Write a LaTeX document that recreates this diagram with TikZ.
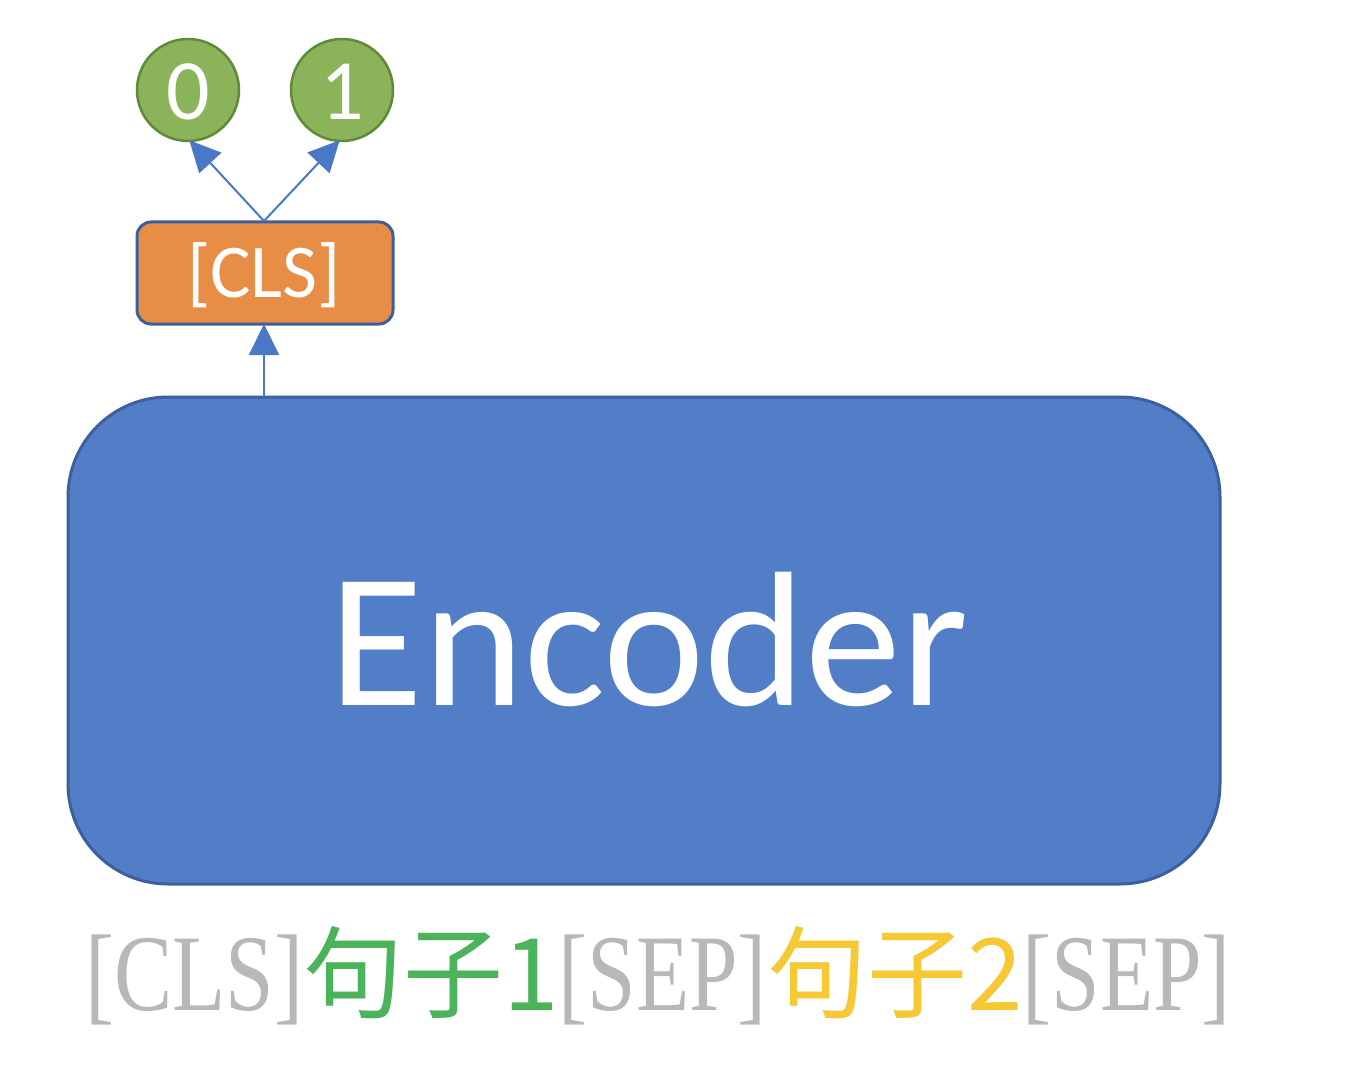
\documentclass[tikz,border=0pt]{standalone}
\usepackage{fontspec}
\usetikzlibrary{arrows.meta}
\newfontfamily\cjkf{Noto Sans CJK SC}
\newfontfamily\calib{Carlito}
\newfontfamily\serf{Liberation Serif}
\definecolor{encfill}{HTML}{527DC7}
\definecolor{encdraw}{HTML}{3E5F9E}
\definecolor{orfill}{HTML}{E88D45}
\definecolor{grfill}{HTML}{8AB35A}
\definecolor{grdraw}{HTML}{5E8A3A}
\definecolor{arrowc}{HTML}{4A78C8}
\definecolor{tgray}{HTML}{B8B8B8}
\definecolor{tgreen}{HTML}{4BB35A}
\definecolor{tyellow}{HTML}{F5C834}
\tikzset{
  outcircle/.style={circle, fill=grfill, draw=grdraw, line width=2.5pt, minimum size=102pt, inner sep=0pt},
  clsbox/.style={rectangle, rounded corners=14pt, fill=orfill, draw=encdraw, line width=3pt, minimum width=256pt, minimum height=102pt, inner sep=0pt},
  encbox/.style={rectangle, rounded corners=100pt, fill=encfill, draw=encdraw, line width=3pt, minimum width=1152pt, minimum height=487pt, inner sep=0pt},
  wlabel/.style={text=white, anchor=base, inner sep=0pt},
  conn/.style={draw=arrowc, line width=2pt, -{Triangle[length=31pt,width=30pt]}, shorten >=-1pt},
}
\newcommand{\nrw}[1]{\scalebox{0.8}[1]{\serf #1}}
\begin{document}
\begin{tikzpicture}[x=1pt,y=-1pt]
\useasboundingbox (0,0) rectangle (1350,1086);
\fill[white] (0,0) rectangle (1350,1086);
\node[encbox] (enc) at (644,640.5) {};
\node[wlabel, font=\calib\fontsize{192}{200}\selectfont] (enctext) at (649,705) {Encoder};
\node[clsbox] (cls) at (265,273) {};
\node[wlabel, font=\calib\fontsize{76}{80}\selectfont] (clstext) at (264,298) {[CLS]};
\node[outcircle] (c0) at (188,90) {};
\node[outcircle] (c1) at (342,90) {};
\node[wlabel, font=\calib\fontsize{86}{90}\selectfont] (t0) at (188,120) {0};
\node[wlabel, font=\calib\fontsize{86}{90}\selectfont] (t1) at (342,120) {1};
\coordinate (encTop) at (264,397);
\coordinate (clsTop) at (264,221);
\coordinate (clsBot) at (264,325);
\coordinate (c0tip) at (190,141);
\coordinate (c1tip) at (339,141);
\draw[conn] (encTop) -- (clsBot);
\draw[conn] (clsTop) -- (c0tip);
\draw[conn] (clsTop) -- (c1tip);
\node[anchor=base west, inner sep=0pt, text=tgray, font=\fontsize{109}{115}\selectfont] (seq) at (85,1010)
  {\nrw{[CLS]}{\cjkf\fontsize{100}{110}\selectfont\color{tgreen}句子1}\nrw{[SEP]}{\cjkf\fontsize{100}{110}\selectfont\color{tyellow}句子2}\nrw{[SEP]}};
\end{tikzpicture}
\end{document}
